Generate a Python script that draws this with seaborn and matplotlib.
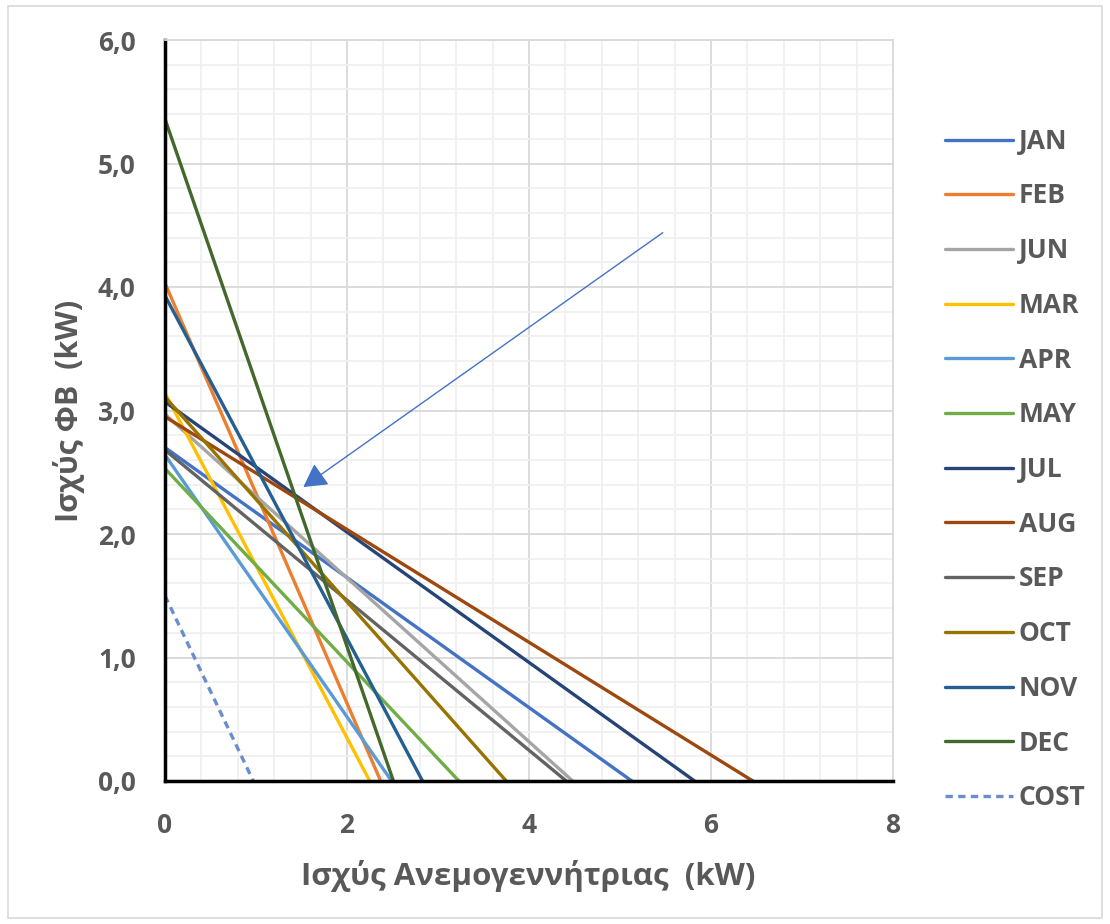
import pandas as pd
import matplotlib.pyplot as plt
import seaborn as sns
from matplotlib.patches import Rectangle
from matplotlib.ticker import MultipleLocator, FuncFormatter

# sxedon times apo to grafima (temnomena sta axones)
months = ['JAN', 'FEB', 'JUN', 'MAR', 'APR', 'MAY', 'JUL', 'AUG', 'SEP', 'OCT', 'NOV', 'DEC', 'COST']
pv_start = [2.70, 4.03, 2.97, 3.14, 2.64, 2.53, 3.07, 2.95, 2.68, 3.11, 3.93, 5.36, 1.50]
wind_end = [5.13, 2.37, 4.48, 2.25, 2.49, 3.23, 5.82, 6.46, 4.41, 3.75, 2.83, 2.51, 0.97]
colors = ['#4472C4', '#ED7D31', '#A5A5A5', '#FFC000', '#5B9BD5', '#70AD47',
          '#264478', '#9E480E', '#636363', '#997300', '#255E91', '#43682B', '#698ED0']

arrow_from = (5.47, 4.44)
arrow_to = (1.52, 2.38)

rows = []
for m, y0, x0 in zip(months, pv_start, wind_end):
    rows.append({'month': m, 'wind': 0.0, 'pv': y0})
    rows.append({'month': m, 'wind': x0, 'pv': 0.0})
df = pd.DataFrame(rows)

sns.set_style('white')
plt.rcParams['font.family'] = ['Open Sans', 'DejaVu Sans']
grey = '#595959'

fig = plt.figure(figsize=(11.1, 9.24), dpi=100)
ax = fig.add_axes([165/1110, 1 - 781/924, (893-165)/1110, (781-40)/924])

palette = dict(zip(months, colors))
dashes = {m: '' for m in months}
dashes['COST'] = (2.2, 1.6)
sns.lineplot(data=df, x='wind', y='pv', hue='month', style='month', hue_order=months,
             style_order=months, palette=palette, dashes=dashes, linewidth=2.4,
             ax=ax, sort=False, legend=True)

ax.annotate('', xy=arrow_to, xytext=arrow_from,
            arrowprops=dict(arrowstyle='-|>,head_length=0.45,head_width=0.25', color='#4472C4',
                            lw=1.0, mutation_scale=32, shrinkA=0, shrinkB=0))

ax.set_xlim(0, 8)
ax.set_ylim(0, 6)
ax.xaxis.set_major_locator(MultipleLocator(2))
ax.xaxis.set_minor_locator(MultipleLocator(0.4))
ax.yaxis.set_major_locator(MultipleLocator(1))
ax.yaxis.set_minor_locator(MultipleLocator(0.2))
ax.yaxis.set_major_formatter(FuncFormatter(lambda v, p: f'{v:.1f}'.replace('.', ',')))
ax.grid(which='major', color='#d9d9d9', lw=1.3)
ax.grid(which='minor', color='#f0f0f0', lw=1.3)
ax.set_axisbelow(True)
ax.tick_params(which='both', length=0, labelsize=19, colors=grey)
ax.tick_params(axis='x', pad=22)
ax.tick_params(axis='y', pad=21)
for lab in ax.get_xticklabels() + ax.get_yticklabels():
    lab.set_fontweight('bold')

for s in ['left', 'bottom']:
    ax.spines[s].set_color('black')
    ax.spines[s].set_linewidth(2.5)
for s in ['top', 'right']:
    ax.spines[s].set_color('#d9d9d9')
    ax.spines[s].set_linewidth(1.3)

ax.set_xlabel('Ισχύς Ανεμογεννήτριας  (kW)', fontsize=22.5, fontweight='bold', color=grey)
ax.set_ylabel('Ισχύς ΦΒ  (kW)', fontsize=22, fontweight='bold', color=grey)
ax.xaxis.set_label_coords(0.4986, -0.107)
ax.yaxis.set_label_coords(-0.110, 0.5)

handles, labels = ax.get_legend_handles_labels()
ax.get_legend().remove()
leg = fig.legend(handles, labels, loc='upper left', bbox_to_anchor=(921/1110, 1 - 104/924),
                 frameon=False, labelspacing=1.05, handlelength=2.6,
                 handletextpad=0.2, prop={'weight': 'bold', 'size': 19})
for t in leg.get_texts():
    t.set_color(grey)
for h in leg.get_lines():
    h.set_linewidth(2.4)

fig.patches.append(Rectangle((8/1110, 6/924), 1 - 16/1110, 1 - 12/924, transform=fig.transFigure,
                             fill=False, edgecolor='#d9d9d9', lw=1.2))

plt.savefig('out.png', dpi=100)
